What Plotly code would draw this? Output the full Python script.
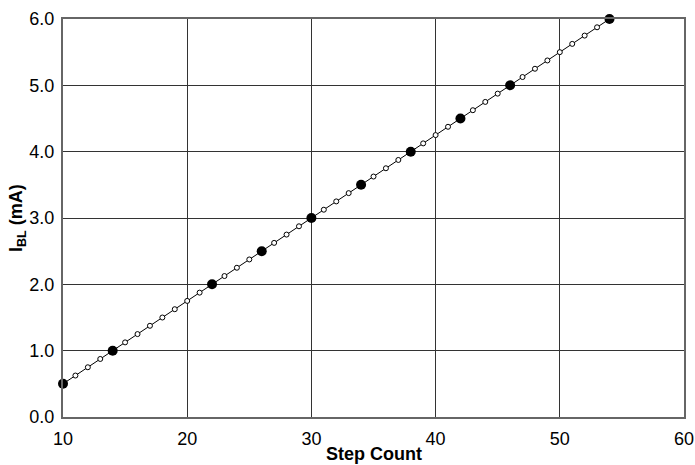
import plotly.graph_objects as go

# Data
steps = list(range(10, 55))
current_ma = [0.5 + 0.125 * (s - 10) for s in steps]  # linear: 0.5 mA at step 10 to 6.0 mA at step 54
key_steps = [10, 14, 22, 26, 30, 34, 38, 42, 46, 54]
key_current = [0.5, 1.0, 2.0, 2.5, 3.0, 3.5, 4.0, 4.5, 5.0, 6.0]
minor_steps = [s for s in steps if s not in key_steps]
minor_current = [c for s, c in zip(steps, current_ma) if s not in key_steps]

x_ticks = [10, 20, 30, 40, 50, 60]
y_ticks = [0, 1, 2, 3, 4, 5, 6]
y_tick_labels = ["0.0", "1.0", "2.0", "3.0", "4.0", "5.0", "6.0"]

fig = go.Figure()
fig.add_trace(go.Scatter(x=steps, y=current_ma, mode="lines",
                         line=dict(color="black", width=1), hoverinfo="skip", cliponaxis=False))
fig.add_trace(go.Scatter(x=minor_steps, y=minor_current, mode="markers", cliponaxis=False,
                         marker=dict(size=5, color="white", line=dict(color="black", width=1))))
fig.add_trace(go.Scatter(x=key_steps, y=key_current, mode="markers", cliponaxis=False,
                         marker=dict(size=10, color="black")))

font = dict(family="Liberation Sans, Arial, sans-serif", size=18, color="black")
fig.update_layout(
    width=695, height=465,
    margin=dict(l=63, r=11, t=19, b=48, autoexpand=False),
    paper_bgcolor="white", plot_bgcolor="white",
    showlegend=False,
    hovermode=False,
    font=font,
    annotations=[
        dict(text="<b>Step Count</b>", xref="paper", yref="paper",
             x=0.5, y=0, xanchor="center", yanchor="middle",
             yshift=-37, showarrow=False, font=font),
        dict(text="<b>I<sub>BL</sub> (mA)</b>", xref="paper", yref="paper",
             x=0, y=0.5, xanchor="center", yanchor="middle", textangle=-90,
             xshift=-46, showarrow=False, font=font),
    ],
)
fig.update_xaxes(range=[10, 60], tickvals=x_ticks, ticks="", showgrid=True,
                 gridcolor="#333", gridwidth=1, showline=True, linecolor="#666",
                 linewidth=2, mirror=True, zeroline=False, automargin=False,
                 tickfont=font, ticklabelstandoff=4)
fig.update_yaxes(range=[0, 6], tickvals=y_ticks, ticktext=y_tick_labels, ticks="",
                 showgrid=True, gridcolor="#333", gridwidth=1, showline=True,
                 linecolor="#666", linewidth=2, mirror=True, zeroline=False,
                 automargin=False, tickfont=font, ticklabelstandoff=3)

# remove the default page margin so the 695x465 figure fills the window exactly
fig.write_html("out.html", config={"displayModeBar": False},
               post_script="document.body.style.margin='0';document.body.style.overflow='hidden';")
